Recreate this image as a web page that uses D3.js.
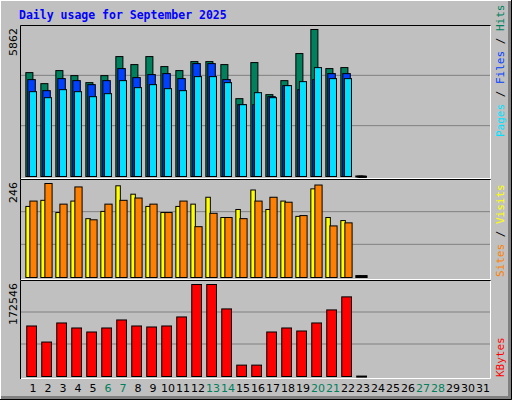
<!DOCTYPE html>
<html><head><meta charset="utf-8">
<script src="https://cdn.jsdelivr.net/npm/d3@7"></script>
<style>body{margin:0;background:#fff}</style>
</head><body><div id="chart"></div>
<script>
const days = d3.range(1, 32);
const weekend = [6, 7, 13, 14, 20, 21, 27, 28];
const hits = [4143,3703,4223,4023,3743,4023,4782,4463,4782,4383,4223,4582,4582,4463,3104,4543,3264,3823,4902,5862,4303,4343,20];
const files = [3863,3423,3903,3823,3663,3823,4303,3943,4063,4103,3903,4502,4502,3863,2864,2864,3183,3623,3463,3863,4103,4103,15];
const pages = [3383,3143,3463,3383,3183,3303,3823,3543,3663,3503,3423,3983,3983,3743,2864,3343,3143,3623,3783,4342,3903,3903,10];
const visits = [186,202,170,200,154,173,240,218,186,170,186,192,210,157,178,229,178,200,160,232,157,149,5];
const sites = [200,246,192,237,151,192,202,208,192,170,200,133,168,157,154,200,210,197,162,242,135,143,5];
const kbytes = [94740,64625,100390,90980,83450,90980,106030,94740,92860,94740,111680,172546,172546,126740,21330,21330,83450,90980,85330,100390,124850,149330,800];

const W = 512, H = 400;
const svg = d3.select("#chart").append("svg").attr("width", W).attr("height", H)
    .style("font-family", "DejaVu Sans");

// outer frame
svg.append("rect").attr("width", W).attr("height", H).attr("fill", "#c0c0c0");
svg.append("path").attr("d", `M0,${H} V0 H${W}`).attr("stroke", "#fff").attr("stroke-width", 2).attr("fill", "none");
svg.append("path").attr("d", `M1,${H - 2} H${W - 2} V1`).attr("stroke", "#808080").attr("stroke-width", 4).attr("fill", "none");
svg.append("path").attr("d", `M0,${H - 0.5} H${W - 0.5} V0`).attr("stroke", "#000").attr("stroke-width", 1).attr("fill", "none");

svg.append("text").attr("x", 19).attr("y", 19).text("Daily usage for September 2025")
    .attr("fill", "#0000ff").attr("font-family", "DejaVu Sans Mono").attr("font-weight", "bold").attr("font-size", 11.5);

const x = d3.scaleBand().domain(days).range([24, 489]);
const s = x.step();

const panels = [
    {top: 25, bottom: 179, base: 176, max: 5862, label: "5862"},
    {top: 179, bottom: 280, base: 277, max: 246, label: "246"},
    {top: 280, bottom: 379, base: 376, max: 172546, label: "172546"}
];
panels.forEach(p => {
    p.y = d3.scaleLinear().domain([0, p.max]).range([p.base, p.top + 4]);
    svg.append("rect").attr("x", 20.5).attr("y", p.top + 0.5).attr("width", 470).attr("height", p.bottom - p.top)
        .attr("fill", "#c0c0c0").attr("stroke", "none");
    const g = (p.base - p.top) / 3;
    [1, 2].forEach(i => svg.append("line").attr("x1", 21).attr("x2", 490)
        .attr("y1", p.base - g * i).attr("y2", p.base - g * i).attr("stroke", "#808080"));
    svg.append("path").attr("d", `M20.5,${p.bottom} V${p.top + 0.5} H490.5`).attr("stroke", "#000").attr("fill", "none");
    svg.append("path").attr("d", `M21,${p.bottom - 0.5} H490.5 V${p.top + 1}`).attr("stroke", "#fff").attr("fill", "none");
    svg.append("text").attr("transform", `translate(17,${p.top + 3}) rotate(-90)`).attr("text-anchor", "end")
        .attr("font-size", 11).text(p.label);
});

function bars(data, panel, off, w, color) {
    svg.append("g").selectAll("rect").data(data).join("rect")
        .attr("x", (d, i) => x(i + 1) + off * s + 0.5)
        .attr("y", d => panel.y(d) + 0.5)
        .attr("width", w * s)
        .attr("height", d => Math.max(1, panel.base - panel.y(d)))
        .attr("fill", (d, i) => i === 22 ? "#000" : color)
        .attr("stroke", "#000");
}
bars(hits, panels[0], 0.09, 0.47, "#00805c");
bars(files, panels[0], 0.22, 0.5, "#0040ff");
bars(pages, panels[0], 0.33, 0.47, "#00e0ff");
bars(visits, panels[1], 0.09, 0.3, "#ffff00");
bars(sites, panels[1], 0.36, 0.48, "#ff8000");
bars(kbytes, panels[2], 0.15, 0.65, "#ff0000");

svg.append("g").selectAll("text").data(days).join("text")
    .attr("x", d => x(d) + s / 2 + 1.5).attr("y", 392).attr("text-anchor", "middle")
    .attr("font-size", 11).attr("fill", d => weekend.includes(d) ? "#00805c" : "#000").text(d => d);

function sideLabel(parts, yEnd) {
    const t = svg.append("text").attr("transform", `translate(504,${yEnd}) rotate(-90)`)
        .attr("font-family", "DejaVu Sans Mono").attr("font-size", 11);
    parts.forEach(([txt, c]) => t.append("tspan").attr("fill", c).text(txt));
}
sideLabel([["Pages", "#00e0ff"], [" / ", "#000"], ["Files", "#0040ff"], [" / ", "#000"], ["Hits", "#00805c"]], 137);
sideLabel([["Sites", "#ff8000"], [" / ", "#000"], ["Visits", "#ffff00"]], 277);
sideLabel([["KBytes", "#ff0000"]], 377);
</script></body></html>
